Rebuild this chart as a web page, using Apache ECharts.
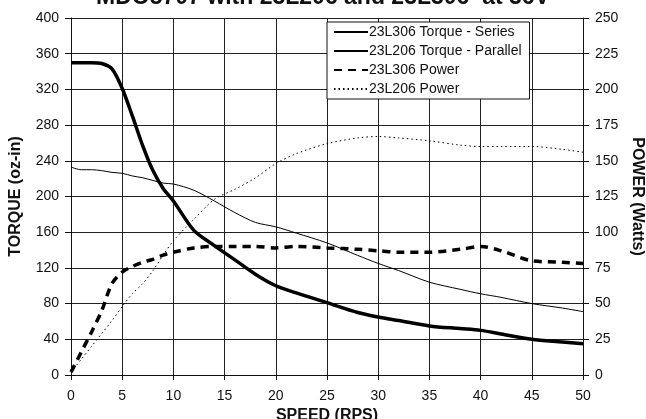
<!DOCTYPE html>
<html>
<head>
<meta charset="utf-8">
<script src="https://cdn.jsdelivr.net/npm/echarts@6/dist/echarts.min.js"></script>
<style>
  html, body { margin: 0; padding: 0; background: #fff; }
  #chart { width: 646px; height: 419px; }
</style>
</head>
<body>
<div id="chart"></div>
<script>
// speed in RPS
const speeds = [0, 1, 2, 3, 4, 5, 6, 7, 8, 9, 10, 12, 14, 16, 18, 20, 22, 25, 28, 30, 32, 35, 38, 40, 42, 45, 48, 50]

// torque, oz-in (left axis)
const torque306Series = [350, 350, 350, 349, 343, 321, 290, 257, 229, 209, 195, 162, 145, 129, 113, 100, 92, 81, 70, 65, 61, 55, 52, 50, 46, 40, 37, 35]
const torque206Parallel = [233, 230, 230, 229, 227, 226, 223, 221, 218, 215, 214, 207, 195, 182, 171, 166, 159, 148, 134, 125, 117, 104, 96, 91, 87, 80, 75, 71]

// power, watts (right axis)
const power306 = [2, 16, 30, 45, 64, 72, 76, 79, 81, 84, 86, 89, 90, 90, 90, 89, 90, 89, 88, 87, 86, 86, 88, 90, 87, 80, 79, 78]
const power206 = [2, 11, 20, 29, 38, 48, 57, 64, 73, 84, 94, 109, 123, 130, 138, 148, 155, 162, 166, 167, 166, 164, 161, 160, 160, 160, 158, 156]

const torqueTicks = { min: 0, max: 400, interval: 40 }
const powerTicks = { min: 0, max: 250, interval: 25 }
const speedTicks = { min: 0, max: 50, interval: 5 }

const pairs = vals => vals.map((v, i) => [speeds[i], v])

const font = 'Liberation Sans, Arial, Helvetica, sans-serif'
const tickLabel = { color: '#111', fontSize: 14, fontFamily: font }
const axisName = { color: '#111', fontSize: 16, fontWeight: 'bold', fontFamily: font }

const chart = echarts.init(document.getElementById('chart'))

chart.setOption({
  animation: false,
  backgroundColor: '#fff',
  title: {
    text: 'MDO5707 with 23L206 and 23L306  at 36V',
    left: 'center',
    top: -19,
    textStyle: { fontSize: 23, fontWeight: 'bold', color: '#111', fontFamily: font },
  },
  legend: {
    orient: 'vertical',
    left: 327,
    top: 22,
    padding: [3, 8, 3, 6],
    itemWidth: 34,
    itemHeight: 12,
    itemGap: 5,
    backgroundColor: '#fff',
    borderColor: '#111',
    borderWidth: 1,
    borderRadius: 0,
    itemStyle: { opacity: 0 },
    textStyle: { color: '#111', fontSize: 14, lineHeight: 14, fontFamily: font, padding: [0, 0, 0, -4] },
  },
  grid: { left: 71, right: 63, top: 18, bottom: 44, outerBoundsMode: 'none' },
  xAxis: {
    type: 'value',
    ...speedTicks,
    name: 'SPEED (RPS)',
    nameLocation: 'middle',
    nameGap: 26,
    nameTextStyle: axisName,
    axisLine: { onZero: false, lineStyle: { color: '#111', width: 1 } },
    axisTick: { show: true, length: 5, lineStyle: { color: '#111' } },
    axisLabel: { ...tickLabel, margin: 14 },
    splitLine: { show: true, lineStyle: { color: '#222', width: 1 } },
  },
  yAxis: [
    {
      type: 'value',
      ...torqueTicks,
      name: 'TORQUE (oz-in)',
      nameLocation: 'middle',
      nameRotate: 90,
      nameGap: 47,
      nameTextStyle: axisName,
      axisLine: { show: true, lineStyle: { color: '#111' } },
      axisTick: { show: true, length: 6, lineStyle: { color: '#111' } },
      axisLabel: { ...tickLabel, margin: 12 },
      splitLine: { show: true, lineStyle: { color: '#222', width: 1 } },
    },
    {
      type: 'value',
      ...powerTicks,
      position: 'right',
      name: 'POWER (Watts)',
      nameLocation: 'middle',
      nameRotate: -90,
      nameGap: 44,
      nameTextStyle: axisName,
      axisLine: { show: true, lineStyle: { color: '#111' } },
      axisTick: { show: true, length: 6, lineStyle: { color: '#111' } },
      axisLabel: { ...tickLabel, margin: 12 },
      splitLine: { show: false },
    },
  ],
  series: [
    {
      name: '23L306 Torque - Series',
      type: 'line',
      yAxisIndex: 0,
      data: pairs(torque306Series),
      smooth: 0.3,
      showSymbol: false,
      symbol: 'none',
      lineStyle: { color: '#000', width: 3.5 },
      itemStyle: { color: '#000' },
    },
    {
      name: '23L206 Torque - Parallel',
      type: 'line',
      yAxisIndex: 0,
      data: pairs(torque206Parallel),
      smooth: 0.3,
      showSymbol: false,
      symbol: 'none',
      lineStyle: { color: '#000', width: 1 },
      itemStyle: { color: '#000' },
    },
    {
      name: '23L306 Power',
      type: 'line',
      yAxisIndex: 1,
      data: pairs(power306),
      smooth: 0.3,
      showSymbol: false,
      symbol: 'none',
      lineStyle: { color: '#000', width: 3.5, type: [8, 6] },
      itemStyle: { color: '#000' },
    },
    {
      name: '23L206 Power',
      type: 'line',
      yAxisIndex: 1,
      data: pairs(power206),
      smooth: 0.3,
      showSymbol: false,
      symbol: 'none',
      lineStyle: { color: '#000', width: 1, type: [1.5, 3] },
      itemStyle: { color: '#000' },
    },
  ],
})
</script>
</body>
</html>
